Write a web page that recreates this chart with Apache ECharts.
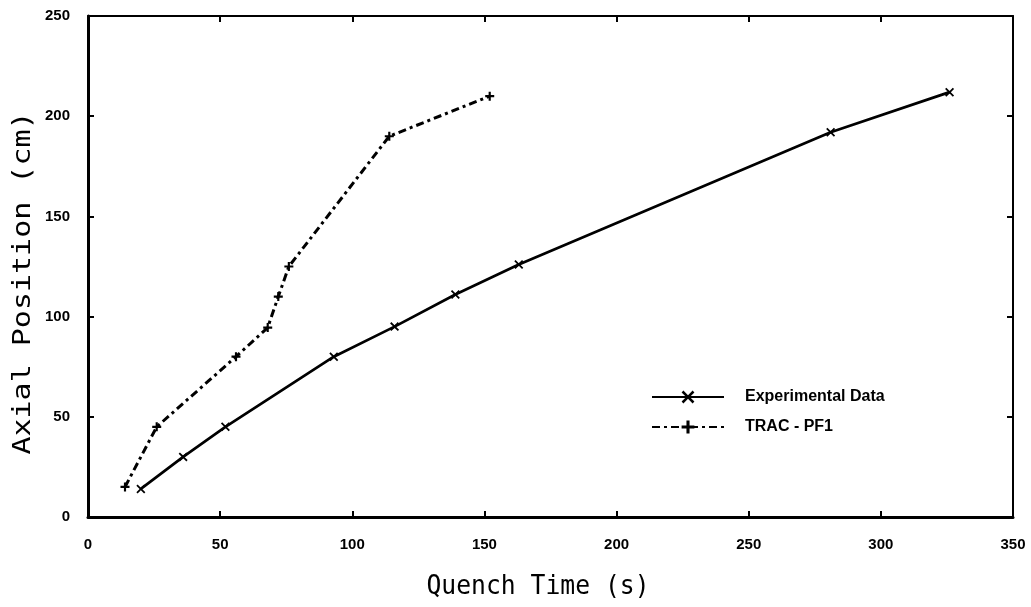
<!DOCTYPE html>
<html><head><meta charset="utf-8">
<script src="https://cdn.jsdelivr.net/npm/echarts@6/dist/echarts.min.js"></script>
<style>html,body{margin:0;padding:0;background:#fff}#c{width:1031px;height:607px}</style>
</head><body><div id="c"></div>
<script>
// Data
const expTime  = [20, 36, 52, 93, 116, 139, 163, 281, 326];
const expPos   = [14, 30, 45, 80, 95, 111, 126, 192, 212];
const tracTime = [14, 26, 56, 68, 72, 76, 114, 152];
const tracPos  = [15, 45, 80, 94.5, 110, 125, 190, 210];
const xTickValues = [0, 50, 100, 150, 200, 250, 300, 350];
const yTickValues = [0, 50, 100, 150, 200, 250];
const seriesNames = ['Experimental Data', 'TRAC - PF1'];
const xTitle = 'Quench Time (s)';
const yTitle = 'Axial Position (cm)';

const X_SYM = 'path://M0,1.4L1.4,0L5,3.6L8.6,0L10,1.4L6.4,5L10,8.6L8.6,10L5,6.4L1.4,10L0,8.6L3.6,5Z';
const P_SYM = 'path://M3.8,0H6.2V3.8H10V6.2H6.2V10H3.8V6.2H0V3.8H3.8Z';

const tickFont = {color:'#000', fontFamily:'Liberation Sans, Arial, sans-serif', fontWeight:'bold', fontSize:15};

function mkX(pos, labels){
  return {type:'value', position:pos, min:xTickValues[0], max:xTickValues[xTickValues.length-1],
    interval:xTickValues[1]-xTickValues[0],
    axisLine:{show:true, onZero:false, lineStyle:{color:'#000', width: pos==='bottom'?3:2}},
    axisTick:{show:true, inside:true, length:6, lineStyle:{color:'#000', width:2}},
    axisLabel:{show:labels, margin:20, ...tickFont},
    splitLine:{show:false}};
}
function mkY(pos, labels){
  return {type:'value', position:pos, min:yTickValues[0], max:yTickValues[yTickValues.length-1],
    interval:yTickValues[1]-yTickValues[0],
    axisLine:{show:true, onZero:false, lineStyle:{color:'#000', width: pos==='left'?3:2}},
    axisTick:{show:true, inside:true, length:6, lineStyle:{color:'#000', width:2}},
    axisLabel:{show:labels, margin:18, ...tickFont},
    splitLine:{show:false}};
}

const chart = echarts.init(document.getElementById('c'), null, {renderer:'canvas'});
chart.setOption({
  animation:false,
  backgroundColor:'#fff',
  grid:{left:88, right:18, top:16, bottom:90, containLabel:false},
  xAxis:[mkX('bottom', true), mkX('top', false)],
  yAxis:[mkY('left', true), mkY('right', false)],
  legend:{
    orient:'vertical', left:646, top:384, itemWidth:72, itemHeight:16, itemGap:14,
    textStyle:{color:'#000', fontFamily:'Liberation Sans, Arial, sans-serif', fontWeight:'bold', fontSize:16, padding:[0,0,0,16]},
    data:seriesNames
  },
  series:[
    {name:seriesNames[0], type:'line', xAxisIndex:0, yAxisIndex:0,
     data:expTime.map((t,i)=>[t, expPos[i]]),
     symbol:X_SYM, symbolSize:9, showSymbol:true,
     lineStyle:{color:'#000', width:2.7, type:'solid'},
     itemStyle:{color:'#000'}},
    {name:seriesNames[1], type:'line', xAxisIndex:0, yAxisIndex:0,
     data:tracTime.map((t,i)=>[t, tracPos[i]]),
     symbol:P_SYM, symbolSize:9, showSymbol:true,
     lineStyle:{color:'#000', width:3, type:[8,4,3,4]},
     itemStyle:{color:'#000'}}
  ],
  graphic:[
    {type:'text', x:538, y:587, scaleX:0.915, style:{text:xTitle, font:'27px "DejaVu Sans Mono", monospace', fill:'#000', align:'center', verticalAlign:'middle'}},
    {type:'text', x:23, y:283, rotation:Math.PI/2, scaleX:1.2, style:{text:yTitle, font:'25px "DejaVu Sans Mono", monospace', fill:'#000', align:'center', verticalAlign:'middle'}}
  ]
});
</script>
</body></html>
